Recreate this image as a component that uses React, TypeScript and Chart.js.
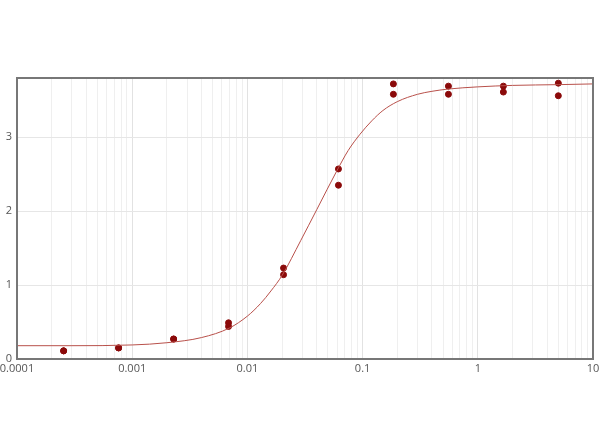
import { useEffect, useRef } from "react";
import { Chart, registerables } from "chart.js";

Chart.register(...registerables);

// dose (3-fold dilution series) and duplicate readings
const doses = [0.000254, 0.000762, 0.00229, 0.00686, 0.0206, 0.0617, 0.185, 0.556, 1.667, 5];
const rep1 = [0.11, 0.15, 0.27, 0.49, 1.23, 2.57, 3.72, 3.69, 3.69, 3.73];
const rep2 = [0.11, 0.15, 0.27, 0.44, 1.14, 2.35, 3.58, 3.58, 3.61, 3.56];

// fitted curve
const curveX = [0.0001, 0.0003, 0.001, 0.002, 0.004, 0.007, 0.01, 0.013, 0.016, 0.02, 0.029, 0.04, 0.06, 0.075, 0.095, 0.12, 0.15, 0.2, 0.3, 0.4, 0.55, 1, 2, 5, 10];
const curveY = [0.18, 0.18, 0.19, 0.22, 0.29, 0.42, 0.58, 0.75, 0.92, 1.13, 1.6, 2.02, 2.55, 2.82, 3.04, 3.22, 3.36, 3.48, 3.58, 3.62, 3.65, 3.68, 3.7, 3.71, 3.72];

const decades = [0.0001, 0.001, 0.01, 0.1, 1, 10];
const decadeLabels = ["0.0001", "0.001", "0.01", "0.1", "1", "10"];
const minorSteps = [1, 2, 3, 4, 5, 6, 7, 8, 9];
const yTicks = [0, 1, 2, 3];

const frame = {
  id: "frame",
  afterDraw(chart: Chart) {
    const { ctx, chartArea } = chart;
    ctx.save();
    ctx.strokeStyle = "#777";
    ctx.lineWidth = 2;
    ctx.strokeRect(chartArea.left, chartArea.top, chartArea.right - chartArea.left, chartArea.bottom - chartArea.top);
    ctx.restore();
  },
};

export default function App() {
  const chartRef = useRef<HTMLCanvasElement>(null);
  const chartInstance = useRef<Chart | null>(null);

  useEffect(() => {
    document.body.style.margin = "0";
    if (!chartRef.current) return;
    if (chartInstance.current) chartInstance.current.destroy();

    const ctx = chartRef.current.getContext("2d");
    if (!ctx) return;

    const points = doses
      .map((d, i) => ({ x: d, y: rep1[i] }))
      .concat(doses.map((d, i) => ({ x: d, y: rep2[i] })));

    chartInstance.current = new Chart(ctx, {
      type: "scatter",
      data: {
        datasets: [
          {
            label: "Fit",
            data: curveX.map((x, i) => ({ x, y: curveY[i] })),
            showLine: true,
            borderColor: "#b8504a",
            borderWidth: 1,
            pointRadius: 0,
            cubicInterpolationMode: "monotone",
          },
          {
            label: "Data",
            data: points,
            backgroundColor: "#8b0a0a",
            borderColor: "#8b0a0a",
            pointRadius: 3,
          },
        ],
      },
      options: {
        animation: false,
        responsive: false,
        layout: { padding: { top: 78, right: 7, bottom: 0, left: 0 } },
        plugins: {
          legend: { display: false },
          tooltip: { enabled: false },
        },
        scales: {
          x: {
            type: "logarithmic",
            min: 0.0001,
            max: 10,
            afterBuildTicks: (scale) => {
              const ticks: { value: number }[] = [];
              decades.forEach((d, i) => {
                minorSteps.forEach((m) => {
                  if (i < decades.length - 1 || m === 1) ticks.push({ value: d * m });
                });
              });
              scale.ticks = ticks;
            },
            afterFit: (scale) => {
              scale.height = 88;
              scale.paddingLeft = 0;
              scale.paddingRight = 0;
            },
            grid: {
              color: (c) => (decades.includes(c.tick?.value) ? "#e2e2e2" : "#efefef"),
              drawTicks: false,
            },
            border: { display: false },
            ticks: {
              autoSkip: false,
              maxRotation: 0,
              padding: 3,
              color: "#555",
              font: { family: "Open Sans", size: 11 },
              callback: (v) => {
                const i = decades.indexOf(Number(v));
                return i >= 0 ? decadeLabels[i] : "";
              },
            },
          },
          y: {
            min: 0,
            max: 3.8,
            afterBuildTicks: (scale) => {
              scale.ticks = yTicks.map((value) => ({ value }));
            },
            afterFit: (scale) => {
              scale.width = 17;
            },
            grid: { color: "#e6e6e6", drawTicks: false },
            border: { display: false },
            ticks: {
              padding: 5,
              color: "#555",
              font: { family: "Open Sans", size: 11 },
            },
          },
        },
      },
      plugins: [frame],
    });

    return () => {
      if (chartInstance.current) {
        chartInstance.current.destroy();
        chartInstance.current = null;
      }
    };
  }, []);

  return (
    <div style={{ width: 600, height: 447, background: "#fff" }}>
      <canvas ref={chartRef} width={600} height={447} style={{ width: 600, height: 447 }} />
    </div>
  );
}
